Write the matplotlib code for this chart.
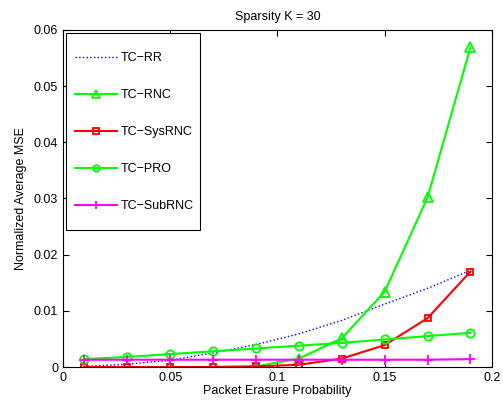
import matplotlib
matplotlib.use("Agg")
import matplotlib.pyplot as plt
from matplotlib.patches import Rectangle

# Packet erasure probabilities
erasure_prob = [0.01, 0.03, 0.05, 0.07, 0.09, 0.11, 0.13, 0.15, 0.17, 0.19]

# Normalized average MSE per scheme
tc_rr = [0.0001, 0.0005, 0.0012, 0.0025, 0.0040, 0.0059, 0.0083, 0.0112, 0.0140, 0.0172]
tc_rnc = [0.0, 0.0, 0.0, 0.0, 0.0001, 0.0015, 0.0051, 0.0134, 0.0302, 0.0569]
tc_sysrnc = [0.0, 0.0, 0.0, 0.0, 0.0001, 0.0004, 0.0015, 0.0039, 0.0087, 0.0170]
tc_pro = [0.0014, 0.0018, 0.0023, 0.0028, 0.0033, 0.0038, 0.0043, 0.0049, 0.0055, 0.0061]
tc_subrnc = [0.0013, 0.0013, 0.0013, 0.0013, 0.0013, 0.0013, 0.0013, 0.0013, 0.0013, 0.0014]

plt.rcParams['font.family'] = ['Liberation Sans', 'DejaVu Sans']
plt.rcParams['font.size'] = 9

fig = plt.figure(figsize=(5.03, 4.03), dpi=100)
ax = fig.add_axes([0.125, 0.0893, 0.853, 0.8363])

ax.plot(erasure_prob, tc_rr, color='blue', linestyle=':', linewidth=1, label='TC\u2212RR')
ax.plot(erasure_prob, tc_rnc, color='#00ff00', marker='^', markersize=7, markerfacecolor='none',
        markeredgewidth=1.3, linewidth=1.5, label='TC\u2212RNC')
ax.plot(erasure_prob, tc_sysrnc, color='red', marker='s', markersize=5, markerfacecolor='none',
        markeredgewidth=1.3, linewidth=1.5, label='TC\u2212SysRNC')
ax.plot(erasure_prob, tc_pro, color='#00ff00', marker='o', markersize=6, markerfacecolor='none',
        markeredgewidth=1.3, linewidth=1.5, label='TC\u2212PRO')
ax.plot(erasure_prob, tc_subrnc, color='magenta', marker='+', markersize=7,
        markeredgewidth=1.3, linewidth=1.5, label='TC\u2212SubRNC')

ax.set_xlim(0, 0.2)
ax.set_ylim(0, 0.06)
ax.set_xticks([0, 0.05, 0.1, 0.15, 0.2])
ax.set_xticklabels(['0', '0.05', '0.1', '0.15', '0.2'])
ax.set_yticks([0, 0.01, 0.02, 0.03, 0.04, 0.05, 0.06])
ax.set_yticklabels(['0', '0.01', '0.02', '0.03', '0.04', '0.05', '0.06'])
ax.tick_params(direction='in', top=True, right=True, length=4, pad=3.5)

ax.set_title('Sparsity K = 30', fontsize=9, pad=7.5)
ax.set_xlabel('Packet Erasure Probability', labelpad=1)
ax.set_ylabel('Normalized Average MSE', labelpad=5)

# MATLAB-style legend: tall box with small side padding
leg = ax.legend(loc='upper left', bbox_to_anchor=(0.149, 0.871), bbox_transform=fig.transFigure,
                frameon=False, labelspacing=2.0, handlelength=3.36, borderpad=0,
                borderaxespad=0, handletextpad=0.32, markerscale=0.8)
ax.add_patch(Rectangle((0.131, 0.429), 0.267, 0.489, transform=fig.transFigure,
                       facecolor='white', edgecolor='black', linewidth=0.8, zorder=4,
                       clip_on=False))
leg.set_zorder(5)

fig.savefig('out.png', dpi=100)
